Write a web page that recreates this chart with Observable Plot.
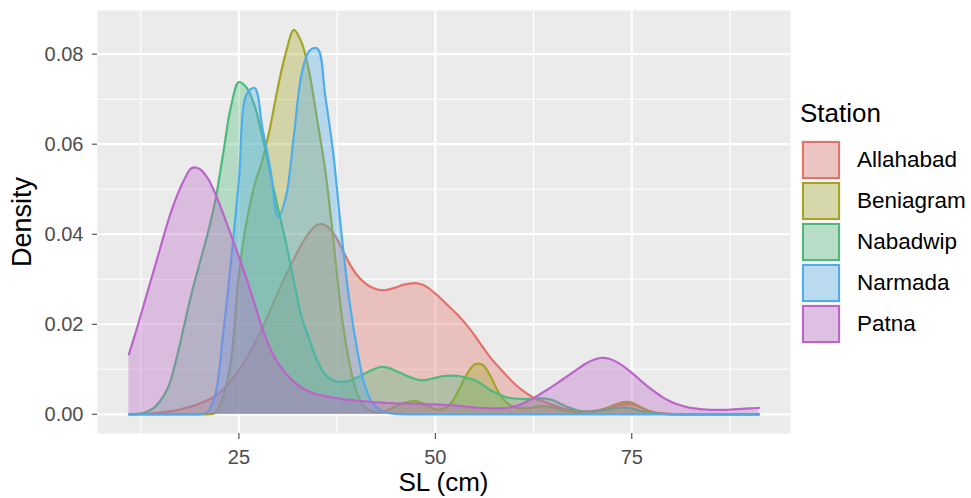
<!DOCTYPE html>
<html>
<head>
<meta charset="utf-8">
<script src="https://cdn.jsdelivr.net/npm/d3@7"></script>
<script src="https://cdn.jsdelivr.net/npm/@observablehq/plot@0.6"></script>
<style>
  body { margin: 0; background: #ffffff; font-family: "Liberation Sans", Arial, Helvetica, sans-serif; }
  #wrap { position: relative; width: 971px; height: 498px; overflow: hidden; }
  #chart { position: absolute; left: 0; top: 0; }
  .ttl { position: absolute; font-size: 26px; line-height: 26px; color: #000; white-space: nowrap; }
  .lab { position: absolute; font-size: 22.5px; line-height: 40px; height: 40px; color: #000; white-space: nowrap; }
  .key { position: absolute; width: 40px; height: 40px; background: #F2F2F2; }
  .key div { position: absolute; inset: 1px; box-sizing: border-box; border: 2px solid; }
</style>
</head>
<body>
<div id="wrap"><div id="chart"></div></div>
<script>
// ---- data ----
const stations = ["Allahabad", "Beniagram", "Nabadwip", "Narmada", "Patna"];
const colors = ["#E2726A", "#A4A524", "#4DB97C", "#4FAEEA", "#BB64C9"];

// SL (cm) grid at which density values were read
const sl = [11,12,13,14,15,16,17,18,19,20,21,22,23,24,25,26,27,28,29,30,
            31,32,33,34,35,36,37,38,39,40,41,42,43,44,45,46,47,48,49,50,
            51,52,53,54,55,56,57,58,59,60,61,62,63,64,65,66,67,68,69,70,
            71,72,73,74,75,76,77,78,79,80,81,82,83,84,85,86,87,88,89,90,91,91.2];

const allahabad = [0,0,0.0001,0.0002,0.0004,0.0006,0.0009,0.0013,0.0018,0.0024,
  0.0031,0.004,0.0055,0.0075,0.0098,0.0125,0.0157,0.0192,0.0232,0.0272,
  0.031,0.0345,0.0378,0.0405,0.0421,0.042,0.0403,0.0372,0.0337,0.031,
  0.0292,0.0281,0.0276,0.0277,0.0282,0.0288,0.0291,0.029,0.0282,0.0268,
  0.0252,0.0235,0.0218,0.0198,0.0175,0.015,0.0126,0.0106,0.0087,0.0069,
  0.0054,0.0042,0.0033,0.0027,0.002,0.0014,0.001,0.0007,0.0006,0.0007,
  0.001,0.0014,0.0019,0.0022,0.0022,0.0016,0.0009,0.0004,0.0002,0.0001,
  0,0,0,0,0,0,0,0,0,0,0,0];

const beniagram = [0,0,0,0,0,0,0,0,0,0,
  0,0.0003,0.004,0.012,0.031,0.043,0.051,0.0565,0.064,0.073,
  0.0805,0.0854,0.0825,0.0755,0.065,0.054,0.039,0.023,0.012,0.0048,
  0.0016,0.0006,0.0004,0.001,0.0018,0.0025,0.0029,0.0027,0.0019,0.0011,
  0.0012,0.0025,0.0055,0.0088,0.0111,0.011,0.0085,0.005,0.0027,0.0016,
  0.0013,0.0014,0.0017,0.0018,0.0015,0.001,0.0006,0.0004,0.0004,0.0005,
  0.0009,0.0015,0.0022,0.0027,0.0026,0.0017,0.0008,0.0003,0.0001,0,
  0,0,0,0,0,0,0,0,0,0,0,0];

const nabadwip = [0,0.0001,0.0004,0.0012,0.003,0.006,0.012,0.0195,0.027,0.0335,
  0.04,0.0475,0.058,0.0685,0.0738,0.0725,0.0685,0.0615,0.0535,0.0455,
  0.038,0.0295,0.0215,0.0165,0.0118,0.0088,0.0075,0.0072,0.0074,0.0081,
  0.009,0.0099,0.0105,0.0103,0.0096,0.0088,0.0081,0.0076,0.0077,0.0081,
  0.0085,0.0086,0.0085,0.0081,0.0076,0.0066,0.0054,0.0045,0.0038,0.0035,
  0.0034,0.0034,0.0035,0.0035,0.0031,0.0023,0.0015,0.0009,0.0006,0.0006,
  0.0008,0.0011,0.0014,0.0015,0.0013,0.0008,0.0004,0.0002,0.0001,0,
  0,0,0,0,0,0,0,0,0,0,0,0];

const narmada = [0,0,0,0,0,0,0,0,0,0,
  0.0005,0.0045,0.018,0.034,0.052,0.0712,0.0725,0.0635,0.0545,0.0438,
  0.0485,0.062,0.0758,0.0808,0.0812,0.0705,0.058,0.041,0.026,0.0149,
  0.0065,0.0025,0.0009,0.0003,0.0001,0,0,0,0,0,
  0,0,0,0,0,0,0,0,0,0,
  0,0,0,0,0,0,0,0,0,0,
  0,0,0,0,0,0,0,0,0,0,
  0,0,0,0,0,0,0,0,0,0,0,0];

const patna = [0.0133,0.019,0.025,0.031,0.037,0.043,0.048,0.052,0.0547,0.0545,
  0.0525,0.049,0.0445,0.0398,0.035,0.03,0.0245,0.019,0.0145,0.0113,
  0.009,0.0072,0.0059,0.005,0.0044,0.004,0.0037,0.0034,0.0032,0.003,
  0.0029,0.0027,0.0026,0.0025,0.0024,0.0024,0.0023,0.0023,0.0022,0.0022,
  0.0021,0.002,0.0019,0.0017,0.0015,0.0014,0.0013,0.0013,0.0014,0.0017,
  0.0023,0.0031,0.0041,0.0052,0.0063,0.0075,0.0087,0.0099,0.0111,0.012,
  0.0125,0.0124,0.0117,0.0106,0.0092,0.0077,0.0062,0.0049,0.0037,0.0028,
  0.0021,0.0016,0.0013,0.0011,0.001,0.001,0.001,0.0011,0.0012,0.0013,0.0014,0.0014];

const xTicks = [25, 50, 75];
const xMinor = [12.5, 37.5, 62.5, 87.5];
const yTicks = [0, 0.02, 0.04, 0.06, 0.08];
const yTickLabels = ["0.00", "0.02", "0.04", "0.06", "0.08"];
const yMinor = [0.01, 0.03, 0.05, 0.07];

const xTitle = "SL (cm)";
const yTitle = "Density";
const legendTitle = "Station";

// ---- build ----
const series = [allahabad, beniagram, nabadwip, narmada, patna];
const rows = stations.flatMap((s, i) => sl.map((x, j) => ({station: s, sl: x, density: series[i][j]})));

const plot = Plot.plot({
  width: 800,
  height: 498,
  marginLeft: 97,
  marginRight: 10,
  marginTop: 10,
  marginBottom: 65,
  style: {fontFamily: "'Liberation Sans', Arial, Helvetica, sans-serif", background: "transparent", overflow: "visible"},
  x: {domain: [7, 95.2]},
  y: {domain: [-0.00427, 0.0897]},
  marks: [
    Plot.frame({fill: "#EBEBEB", stroke: "none"}),
    Plot.ruleX(xMinor, {stroke: "#ffffff", strokeWidth: 1.1}),
    Plot.ruleY(yMinor, {stroke: "#ffffff", strokeWidth: 1.1}),
    Plot.ruleX(xTicks, {stroke: "#ffffff", strokeWidth: 2.2}),
    Plot.ruleY(yTicks, {stroke: "#ffffff", strokeWidth: 2.2}),
    ...stations.flatMap((s, i) => {
      const d = rows.filter(r => r.station === s);
      return [
        Plot.areaY(d, {x: "sl", y: "density", fill: colors[i], fillOpacity: 0.35, curve: "catmull-rom"}),
        Plot.lineY(d, {x: "sl", y: "density", stroke: colors[i], strokeWidth: 2.2, curve: "catmull-rom"})
      ];
    }),
    Plot.axisX(xTicks, {tickSize: 6, tickPadding: 10, fontSize: 20, fill: "#4D4D4D", stroke: "#333333", label: null}),
    Plot.axisY(yTicks, {tickSize: 5, tickPadding: 9, fontSize: 20, fill: "#4D4D4D", stroke: "#333333", label: null,
      tickFormat: d => yTickLabels[yTicks.indexOf(d)]})
  ]
});
document.getElementById("chart").appendChild(plot);

const wrap = document.getElementById("wrap");
function addDiv(cls, text, style) {
  const el = document.createElement("div");
  el.className = cls;
  el.textContent = text;
  Object.assign(el.style, style);
  wrap.appendChild(el);
  return el;
}
// axis titles
addDiv("ttl", xTitle, {left: "343.5px", width: "200px", textAlign: "center", top: "469px"});
addDiv("ttl", yTitle, {left: "-78px", width: "200px", textAlign: "center", top: "208.5px", fontSize: "27px", transform: "rotate(-90deg)", transformOrigin: "50% 50%"});
// legend
addDiv("ttl", legendTitle, {left: "800px", top: "100px"});
stations.forEach((s, i) => {
  const top = 140 + i * 41;
  const k = document.createElement("div");
  k.className = "key";
  k.style.left = "801px";
  k.style.top = top + "px";
  const inner = document.createElement("div");
  inner.style.borderColor = colors[i];
  const c = d3.color(colors[i]); c.opacity = 0.35;
  inner.style.background = c.formatRgb();
  k.appendChild(inner);
  wrap.appendChild(k);
  addDiv("lab", s, {left: "857px", top: top + "px"});
});
</script>
</body>
</html>
